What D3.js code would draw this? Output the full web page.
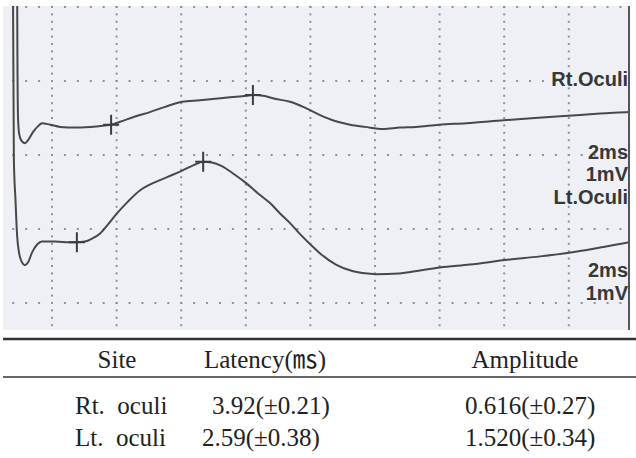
<!DOCTYPE html>
<html>
<head>
<meta charset="utf-8">
<script src="https://cdn.jsdelivr.net/npm/d3@7"></script>
<style>
  body { margin: 0; background: #fff; }
  svg { display: block; }
</style>
</head>
<body>
<div id="chart"></div>
<script>
// waveform traces, [time ms, amplitude mV relative to trace baseline]
const rtTrace = [
    [0.92, 1.99], [0.93, 0.90], [0.95, 0.10], [0.99, -0.11], [1.06, -0.19], [1.16, -0.22],
    [1.26, -0.18], [1.41, -0.07], [1.57, 0.01], [1.69, 0.05], [1.94, 0.03], [2.25, 0.0],
    [2.71, -0.01], [3.18, 0.0], [3.64, 0.02], [3.83, 0.03], [4.11, 0.07], [4.57, 0.14],
    [5.03, 0.20], [5.50, 0.27], [6.03, 0.34], [6.58, 0.36], [7.05, 0.38], [7.51, 0.40],
    [8.01, 0.42], [8.22, 0.43], [8.53, 0.42], [8.90, 0.38], [9.37, 0.34], [9.83, 0.26],
    [10.30, 0.16], [10.76, 0.08], [11.23, 0.03], [11.69, 0.0], [12.25, -0.03], [12.77, -0.01],
    [13.27, 0.0], [13.98, 0.03], [14.82, 0.05], [15.99, 0.09], [16.95, 0.12], [17.98, 0.15],
    [18.97, 0.18], [19.86, 0.20], [20.2, 0.21]
];
const ltTrace = [
    [0.79, 3.54], [0.81, 1.91], [0.82, 1.11], [0.87, 0.57], [0.92, 0.09], [0.98, -0.14],
    [1.07, -0.27], [1.16, -0.31], [1.26, -0.27], [1.38, -0.14], [1.54, -0.03], [1.69, 0.01],
    [2.09, 0.01], [2.56, 0.0], [2.77, 0.0], [3.02, 0.01], [3.24, 0.05], [3.49, 0.12],
    [3.73, 0.24], [4.01, 0.39], [4.35, 0.55], [4.72, 0.70], [5.03, 0.78], [5.34, 0.84],
    [5.72, 0.91], [6.03, 0.97], [6.37, 1.04], [6.68, 1.09], [6.95, 1.08], [7.26, 1.03],
    [7.64, 0.92], [8.01, 0.80], [8.38, 0.66], [8.75, 0.53], [9.06, 0.39], [9.37, 0.26],
    [9.68, 0.11], [10.05, -0.05], [10.30, -0.15], [10.79, -0.30], [11.32, -0.39], [12.03, -0.43],
    [12.74, -0.42], [13.39, -0.38], [14.01, -0.34], [14.94, -0.30], [16.03, -0.24], [17.11, -0.19],
    [18.01, -0.14], [18.97, -0.07], [19.86, 0.0], [20.2, 0.03]
];

// onset / peak cursors
const rtMarkers = [[3.83, 0.03], [8.22, 0.43]];
const ltMarkers = [[2.77, 0.0], [6.68, 1.09]];

// where each trace sits on the screen (in divisions of 1 mV)
const rtBase = 2.38;
const ltBase = 0.82;

const traceLabels = ["Rt.Oculi", "2ms", "1mV", "Lt.Oculi", "2ms", "1mV"];

// table
const tableHeader = ["Site", "Latency(\u33B3)", "Amplitude"];
const sites = ["Rt.  oculi", "Lt.  oculi"];
const latencies = ["3.92(\u00B10.21)", "2.59(\u00B10.38)"];
const amplitudes = ["0.616(\u00B10.27)", "1.520(\u00B10.34)"];

const width = 636, height = 458;

const svg = d3.select("#chart").append("svg")
    .attr("width", width)
    .attr("height", height);

// screen panel
const panel = { x: 3, y: 6, w: 626, h: 324 };

svg.append("rect")
    .attr("x", panel.x).attr("y", panel.y)
    .attr("width", panel.w).attr("height", panel.h)
    .attr("fill", "#eef0f5");

svg.append("clipPath").attr("id", "panel-clip")
    .append("rect")
    .attr("x", panel.x).attr("y", panel.y)
    .attr("width", panel.w).attr("height", panel.h);

// scales: 2 ms per division, 1 mV per division
const xScale = d3.scaleLinear().domain([0, 20]).range([-12.6, 633.4]);
const yScale = d3.scaleLinear().domain([0, 4]).range([303, 7]);

// dotted grid
const gridG = svg.append("g").attr("clip-path", "url(#panel-clip)");
const xTicks = d3.range(2, 20, 2);
const yTicks = d3.range(0, 5, 1);

const hDots = [];
yTicks.forEach(v => {
    d3.range(0, 21, 0.4).forEach(t => hDots.push([xScale(t), yScale(v)]));
});
const vDots = [];
xTicks.forEach(t => {
    d3.range(-0.5, 4.1, 0.1).forEach(v => vDots.push([xScale(t), yScale(v)]));
});

gridG.selectAll("rect.hdot")
    .data(hDots)
    .enter().append("rect")
    .attr("class", "hdot")
    .attr("x", d => d[0] - 1).attr("y", d => d[1] - 1)
    .attr("width", 2).attr("height", 2)
    .attr("fill", "#8c92a0");

gridG.selectAll("rect.vdot")
    .data(vDots)
    .enter().append("rect")
    .attr("class", "vdot")
    .attr("x", d => d[0] - 1).attr("y", d => d[1] - 1)
    .attr("width", 2).attr("height", 2)
    .attr("fill", "#8c92a0");

// traces
const traceG = svg.append("g").attr("clip-path", "url(#panel-clip)");

const line = base => d3.line()
    .x(d => xScale(d[0]))
    .y(d => yScale(base + d[1]))
    .curve(d3.curveMonotoneX);

traceG.append("path")
    .datum(rtTrace)
    .attr("fill", "none")
    .attr("stroke", "#484848")
    .attr("stroke-width", 2)
    .attr("d", line(rtBase));

traceG.append("path")
    .datum(ltTrace)
    .attr("fill", "none")
    .attr("stroke", "#484848")
    .attr("stroke-width", 2)
    .attr("d", line(ltBase));

// cursor crosses
const markers = rtMarkers.map(d => [d[0], rtBase + d[1]])
    .concat(ltMarkers.map(d => [d[0], ltBase + d[1]]));

traceG.selectAll("path.marker")
    .data(markers)
    .enter().append("path")
    .attr("class", "marker")
    .attr("fill", "none")
    .attr("stroke", "#3c3c3c")
    .attr("stroke-width", 2)
    .attr("d", d => {
        let x = xScale(d[0]), y = yScale(d[1]);
        return `M${x},${y - 10}V${y + 10}M${x - 8},${y}H${x + 8}`;
    });

// right border of the screen
svg.append("line")
    .attr("x1", 629).attr("x2", 629)
    .attr("y1", panel.y).attr("y2", panel.y + panel.h)
    .attr("stroke", "#555")
    .attr("stroke-width", 2);

// channel labels
const labelY = [86, 159, 181, 204, 277, 300];
svg.selectAll("text.chan")
    .data(traceLabels)
    .enter().append("text")
    .attr("class", "chan")
    .attr("x", 628)
    .attr("y", (d, i) => labelY[i])
    .attr("text-anchor", "end")
    .attr("font-family", "'Liberation Sans', Arial, sans-serif")
    .attr("font-weight", "bold")
    .attr("font-size", 20)
    .attr("fill", "#383838")
    .text(d => d);

// table rules
svg.append("line")
    .attr("x1", 3).attr("x2", 636)
    .attr("y1", 339).attr("y2", 339)
    .attr("stroke", "#333")
    .attr("stroke-width", 2.5);

svg.append("line")
    .attr("x1", 3).attr("x2", 636)
    .attr("y1", 377).attr("y2", 377)
    .attr("stroke", "#666")
    .attr("stroke-width", 1.8);

const tableFont = "'Liberation Serif', 'Times New Roman', 'Noto Sans CJK KR', serif";
const headerX = [117, 265, 525];

svg.selectAll("text.head")
    .data(tableHeader)
    .enter().append("text")
    .attr("class", "head")
    .attr("x", (d, i) => headerX[i])
    .attr("y", 368)
    .attr("text-anchor", "middle")
    .attr("font-family", tableFont)
    .attr("font-size", 25)
    .attr("fill", "#222")
    .text(d => d);

const rowY = [414, 446];
const latX = [212, 202];

sites.forEach((s, i) => {
    svg.append("text")
        .attr("x", 75).attr("y", rowY[i])
        .attr("font-family", tableFont)
        .attr("font-size", 25)
        .attr("fill", "#222")
        .style("white-space", "pre")
        .text(s);

    svg.append("text")
        .attr("x", latX[i]).attr("y", rowY[i])
        .attr("font-family", tableFont)
        .attr("font-size", 25)
        .attr("fill", "#222")
        .text(latencies[i]);

    svg.append("text")
        .attr("x", 465).attr("y", rowY[i])
        .attr("font-family", tableFont)
        .attr("font-size", 25)
        .attr("fill", "#222")
        .text(amplitudes[i]);
});
</script>
</body>
</html>
